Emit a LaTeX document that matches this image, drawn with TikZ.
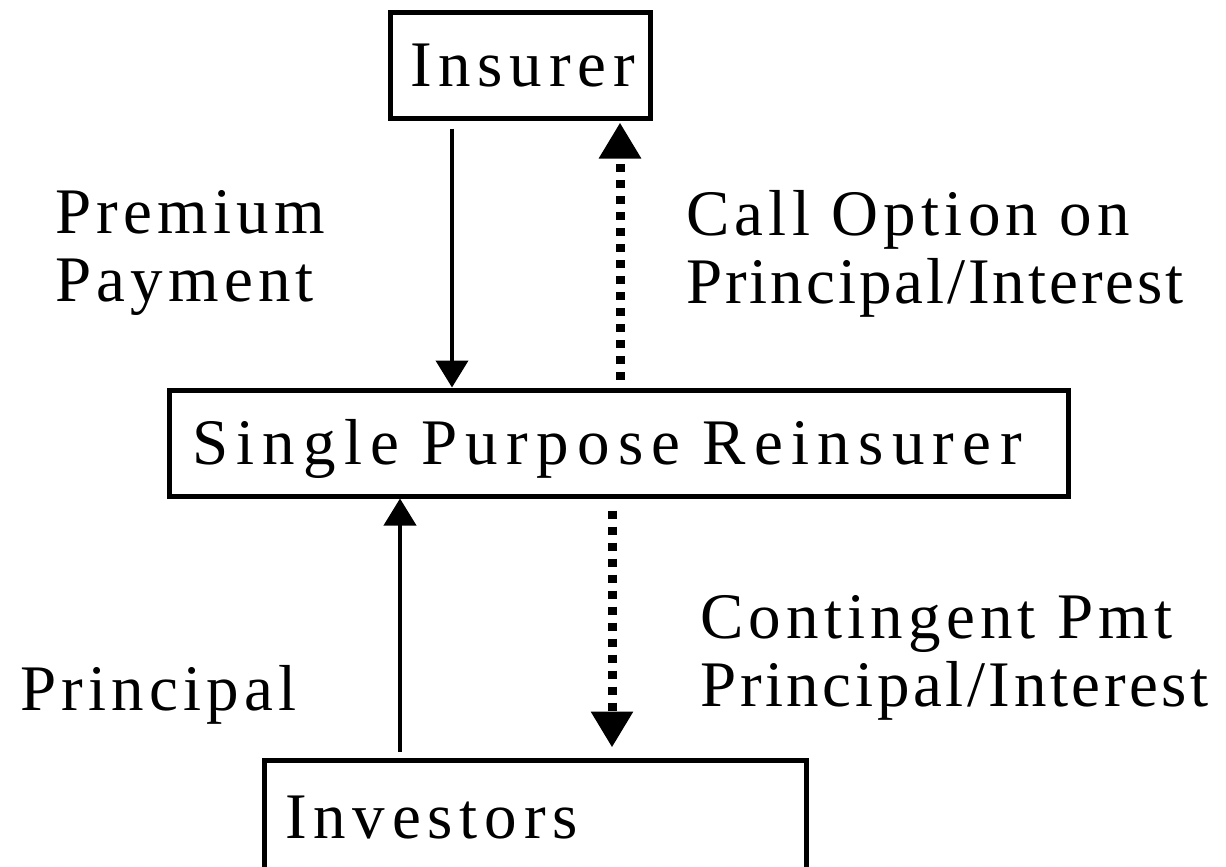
\documentclass[tikz,border=0pt]{standalone}
\usepackage{fontspec}
\setmainfont{Liberation Serif}
\usetikzlibrary{arrows.meta}
\newcommand{\lsp}[1]{\addfontfeature{LetterSpace=#1}}
\begin{document}
\begin{tikzpicture}[x=0.5pt,y=-0.5pt,
  every node/.style={font=\fontsize{32.5}{34}\selectfont},
  box/.style={draw,line width=2.5pt,text height=21.5pt,text depth=0pt,align=left,inner ysep=0pt,inner xsep=0pt,minimum height=53pt},
  lab/.style={inner sep=0pt,align=left,anchor=north west},
  solidarrow/.style={line width=2pt,-{Triangle[width=16pt,length=13.5pt]}},
  dotarrow/.style={line width=4.5pt,dash pattern=on 4pt off 4pt,-{Triangle[width=20pt,length=18pt]}}]
\useasboundingbox (0,0) rectangle (1226,867);
% boxes
\node[box,text width=110pt,inner xsep=10pt] (ins) at (520,65) {\lsp{10.5}Insurer};
\node[box,text width=426.5pt,inner xsep=11.5pt] (spr) at (618.5,443) {\lsp{12.8}Single Purpose Reinsurer};
\node[box,text width=250pt,inner xsep=10.5pt,minimum height=57pt] (inv) at (535,817) {\lsp{10.5}Investors};
% labels
\node[lab] (lp) at (55,190) {\lsp{8}Premium\\\lsp{8}Payment};
\node[lab] (lc) at (686,190) {\lsp{8}Call Option on\\\lsp{4.5}Principal/Interest};
\node[lab] (lpr) at (20,665) {\lsp{8}Principal};
\node[lab] (lcp) at (700,595) {\lsp{8}Contingent Pmt\\\lsp{5.5}Principal/Interest};
% x positions of connectors
\coordinate (xa) at (452,0);
\coordinate (xb) at (620,0);
\coordinate (xc) at (400,0);
\coordinate (xd) at (612,0);
% connectors
\draw[solidarrow,shorten <=4pt] (ins.south -| xa) -- (spr.north -| xa);
\draw[dotarrow,shorten <=4pt,shorten >=1pt] (spr.north -| xb) -- (ins.south -| xb);
\draw[solidarrow,shorten <=3pt] (inv.north -| xc) -- (spr.south -| xc);
\draw[dotarrow,shorten <=6pt,shorten >=5pt] (spr.south -| xd) -- (inv.north -| xd);
\end{tikzpicture}
\end{document}
